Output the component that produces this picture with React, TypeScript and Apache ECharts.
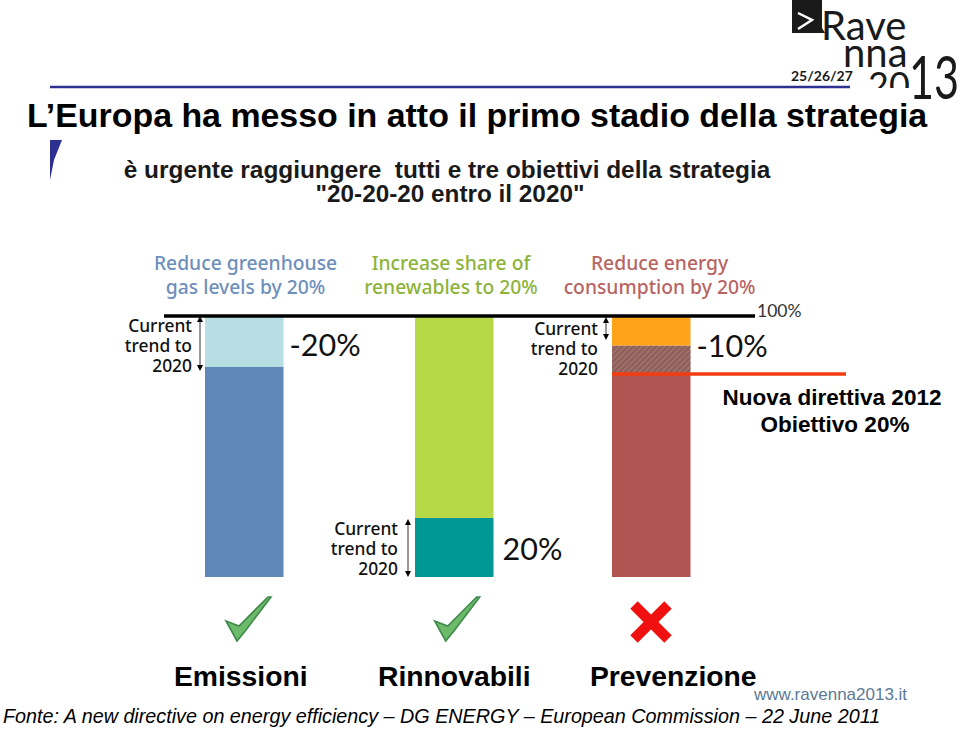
import React, { useEffect, useRef } from "react";
import * as echarts from "echarts";

const categories = ["Emissioni", "Rinnovabili", "Prevenzione"];
const baseValues = [80.5, 22.6, 78];
const middleValues = [0, 0, 10.7];
const topValues = [19.5, 77.4, 11.3];
const baseColors = ["#5f87b8", "#009895", "#b05452"];
const middleColors = ["#a06f68", "#a06f68", "#a06f68"];
const topColors = ["#b7dfe3", "#b5d947", "#ffa31a"];
const changeLabels = ["-20%", "20%", "-10%"];
const goalHeaders = ["Reduce greenhouse\ngas levels by 20%", "Increase share of\nrenewables to 20%", "Reduce energy\nconsumption by 20%"];
const targetValue = 78;
const fullValue = 100;

const ARIAL = '"Liberation Sans", Arial, sans-serif';
const TAHOMA = '"Noto Sans", Tahoma, sans-serif';
const CALIBRI = 'Lato, Calibri, sans-serif';

const barLefts = [205, 415, 612];
const barWidth = 78.5;
const labelShift = [-3.5, 0, 22];

const checkPts = [[271, 597], [268, 597], [239, 626], [226, 621], [237, 641], [246, 630]];
const arrow = (x: number, y1: number, y2: number) => [
  { type: "line", shape: { x1: x, y1: y1 + 4, x2: x, y2: y2 - 4 }, style: { stroke: "#333", lineWidth: 1 } },
  { type: "polygon", shape: { points: [[x, y1], [x - 3, y1 + 6], [x + 3, y1 + 6]] }, style: { fill: "#000" } },
  { type: "polygon", shape: { points: [[x, y2], [x - 3, y2 - 6], [x + 3, y2 - 6]] }, style: { fill: "#000" } },
];
const txt = (x: number, y: number, text: string, font: string, size: number, fill: string, align = "left", weight: any = "normal", style = "normal") => ({
  type: "text", x, y, z: 10,
  style: { text, fontFamily: font, fontSize: size, fontWeight: weight, fontStyle: style, fill, align, verticalAlign: "middle", lineHeight: size * 1.3 },
});
const trend = (x: number, y: number) => ({
  type: "text", x, y, z: 10,
  style: { text: "Current\ntrend to\n2020", fontFamily: TAHOMA, fontSize: 17.4, fontWeight: 500, fill: "#111", align: "right", verticalAlign: "middle", lineHeight: 20 },
});

export default function App() {
  const ref = useRef<HTMLDivElement>(null);
  useEffect(() => {
    document.body.style.margin = "0";
    const chart = echarts.init(ref.current!, undefined, { renderer: "svg" });
    const grids = barLefts.map((left) => ({ left, width: barWidth, top: 316, height: 261 }));
    const series: any[] = [];
    const changeLabel = { show: true, position: "right", formatter: "", fontFamily: CALIBRI, fontSize: 30.5, color: "#111" };
    categories.forEach((_, i) => {
      const common = { type: "bar", xAxisIndex: i, yAxisIndex: i, stack: "s" + i, barWidth: "100%", silent: true, clip: false };
      series.push({
        ...common,
        data: [baseValues[i]],
        itemStyle: { color: baseColors[i] },
        label: i === 1 ? { ...changeLabel, distance: 9, formatter: changeLabels[i] } : { show: false },
      });
      if (middleValues[i] > 0) {
        series.push({
          ...common,
          data: [middleValues[i]],
          itemStyle: {
            color: middleColors[i],
            decal: { symbol: "rect", dashArrayX: [1, 0], dashArrayY: [2, 2], rotation: -Math.PI / 4, color: "rgba(120,80,80,0.55)" },
          },
        });
      }
      const top: any = {
        ...common,
        data: [topValues[i]],
        itemStyle: { color: topColors[i] },
        label: i === 1
          ? { show: false }
          : { ...changeLabel, distance: 6, offset: i === 2 ? [0, 14] : [0, 3], formatter: changeLabels[i] },
      };
      if (i === 2) {
        top.markLine = {
          silent: true, symbol: "none", animation: false,
          data: [
            [
              { x: 164, yAxis: fullValue, lineStyle: { color: "#000", width: 3.5, type: "solid" }, label: { show: true, position: "end", formatter: "100%", fontFamily: CALIBRI, fontSize: 17.5, color: "#333", distance: 2, offset: [0, -6] } },
              { x: 755, yAxis: fullValue },
            ],
            [
              { x: 612, yAxis: targetValue, lineStyle: { color: "#f53c10", width: 3.5, type: "solid" }, label: { show: false } },
              { x: 846, yAxis: targetValue },
            ],
          ],
        };
      }
      series.push(top);
    });

    const headerCenters = [245.5, 451, 659.5];
    const headerColors = ["#6d8fbb", "#8cb33a", "#b86463"];
    chart.setOption({
      animation: false,
      grid: grids,
      xAxis: categories.map((c, i) => ({
        type: "category", gridIndex: i, data: [c],
        axisLine: { show: false }, axisTick: { show: false },
        axisLabel: {
          interval: 0, margin: 85, fontFamily: ARIAL, fontWeight: "bold", fontSize: 28.3, color: "#000", hideOverlap: false,
          padding: labelShift[i] > 0 ? [0, 0, 0, labelShift[i] * 2] : [0, -labelShift[i] * 2, 0, 0],
        },
      })),
      yAxis: categories.map((_, i) => ({ type: "value", gridIndex: i, min: 0, max: 100, show: false })),
      series,
      graphic: { elements: [
        txt(27, 115, "L’Europa ha messo in atto il primo stadio della strategia", ARIAL, 33.9, "#000", "left", "bold"),
        { type: "line", shape: { x1: 50, y1: 87, x2: 850, y2: 87 }, style: { stroke: "#2e3192", lineWidth: 2.5 } },
        { type: "polygon", shape: { points: [[50, 140], [62, 140], [54, 160], [50, 180]] }, style: { fill: "#2e3192" } },
        txt(447, 169, "è urgente raggiungere  tutti e tre obiettivi della strategia", ARIAL, 24.4, "#1a1a1a", "center", "bold"),
        txt(450, 193, "\"20-20-20 entro il 2020\"", ARIAL, 24.3, "#1a1a1a", "center", "bold"),
        ...goalHeaders.map((h, i) => ({
          type: "text", x: headerCenters[i], y: 274, z: 10,
          style: { text: h, fontFamily: TAHOMA, fontSize: 19.3, fontWeight: 500, fill: headerColors[i], align: "center", verticalAlign: "middle", lineHeight: 24 },
        })),
        trend(192, 345), trend(398, 548), trend(598, 348),
        ...arrow(200, 316, 371), ...arrow(408, 519, 577), ...arrow(606, 317, 340),
        txt(832, 397, "Nuova direttiva 2012", ARIAL, 22.5, "#000", "center", "bold"),
        txt(835, 424, "Obiettivo 20%", ARIAL, 22.5, "#000", "center", "bold"),
        { type: "polygon", shape: { points: checkPts }, style: { fill: "#6cbb6a", stroke: "#3f8a4a", lineWidth: 1.6 } },
        { type: "polygon", x: 208.7, shape: { points: checkPts }, style: { fill: "#6cbb6a", stroke: "#3f8a4a", lineWidth: 1.6 } },
        { type: "line", shape: { x1: 634, y1: 605, x2: 668, y2: 639 }, style: { stroke: "#f01010", lineWidth: 10.5 } },
        { type: "line", shape: { x1: 668, y1: 605, x2: 634, y2: 639 }, style: { stroke: "#f01010", lineWidth: 10.5 } },
        txt(754, 694, "www.ravenna2013.it", ARIAL, 17, "#5b7a96"),
        txt(3, 716, "Fonte: A new directive on energy efficiency – DG ENERGY – European Commission – 22 June 2011", ARIAL, 19.75, "#000", "left", "normal", "italic"),
        { type: "polygon", shape: { points: [[792, 0], [822, 0], [822, 28], [825, 33], [792, 33]] }, style: { fill: "#1a1a1a" } },
        { type: "polyline", shape: { points: [[798, 13], [812, 20], [798, 29]] }, style: { stroke: "#fff", fill: "none", lineWidth: 2.5 } },
        txt(821, 25, "Rave", "Lato", 40, "#1a1a1a", "left", 400),
        txt(843, 52, "nna", "Lato", 40, "#1a1a1a", "left", 400),
        txt(791, 75, "25/26/27", "Lato", 14, "#1a1a1a", "left", "bold"),
        txt(868, 84, "20", "Lato", 36, "#1a1a1a", "left", 400),
        { type: "rect", z: 11, shape: { x: 860, y: 88, width: 50, height: 12 }, style: { fill: "#fff" } },
        { type: "text", x: 909, y: 75, z: 12, scaleX: 0.72, style: { text: "13", fontFamily: "Lato", fontSize: 60, fontWeight: 400, fill: "#1a1a1a", verticalAlign: "middle" } },
      ] },
    });
    return () => chart.dispose();
  }, []);
  return <div ref={ref} style={{ position: "absolute", left: 0, top: 0, width: 960, height: 729 }} />;
}
